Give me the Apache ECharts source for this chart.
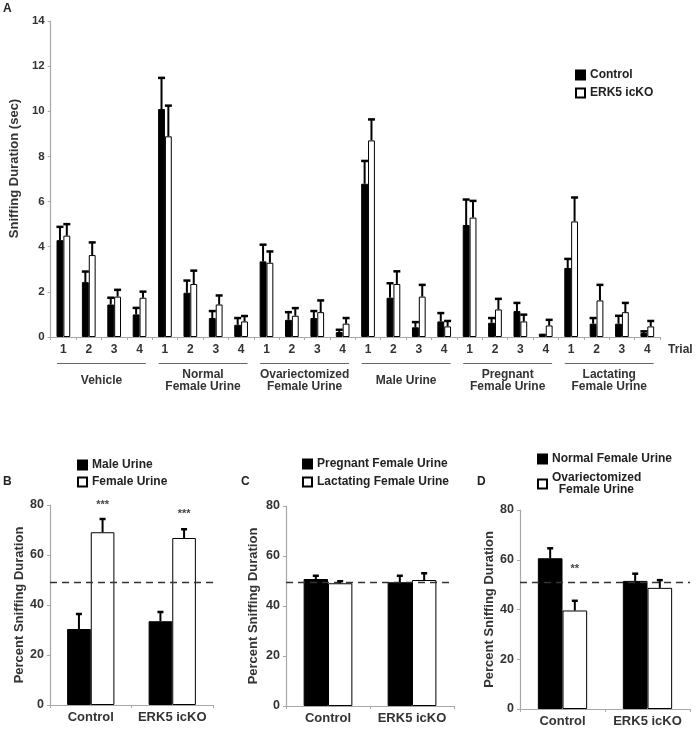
<!DOCTYPE html>
<html><head><meta charset="utf-8">
<script src="https://cdn.jsdelivr.net/npm/echarts@6/dist/echarts.min.js"></script>
<style>html,body{margin:0;padding:0;background:#fff}#c{width:696px;height:729px}</style>
</head><body><div id="c"></div>
<script>
// ---------- Panel A data ----------
const groupNames = ['Vehicle','Normal\nFemale Urine','Ovariectomized\nFemale Urine','Male Urine','Pregnant\nFemale Urine','Lactating\nFemale Urine'];
const trialLabels = ['1','2','3','4'];
const controlA = [4.29,2.43,1.44,1.00, 10.10,1.96,0.84,0.54, 3.35,0.76,0.84,0.22, 6.79,1.74,0.43,0.69, 4.96,0.63,1.15,0.15, 3.06,0.59,0.59,0.18];
const controlASem = [0.59,0.47,0.30,0.29, 1.38,0.54,0.31,0.30, 0.74,0.34,0.31,0.10, 1.01,0.64,0.23,0.37, 1.13,0.21,0.36,0.00, 0.40,0.25,0.35,0.07];
const koA = [4.49,3.63,1.79,1.74, 8.89,2.35,1.44,0.69, 3.29,0.94,1.10,0.59, 8.71,2.35,1.79,0.47, 5.29,1.22,0.69,0.51, 5.12,1.62,1.10,0.47];
const koASem = [0.51,0.56,0.30,0.27, 1.36,0.59,0.40,0.24, 0.50,0.34,0.52,0.25, 0.93,0.56,0.52,0.24, 0.74,0.47,0.30,0.25, 1.06,0.69,0.41,0.24];
const yTicksA = {min:0, max:14, interval:2};

// ---------- Panels B, C, D data ----------
const genotypes = ['Control','ERK5 icKO'];
const maleB = [30.4, 33.5], maleBSem = [6.0, 3.7];
const femaleB = [69.1, 66.8], femaleBSem = [5.3, 3.5];
const chanceB = 49;
const sigB = [[0, 80, '***'], [1, 76.5, '***']];

const pregnantC = [50.8, 49.5], pregnantCSem = [1.3, 2.6];
const lactatingC = [49.1, 50.4], lactatingCSem = [0.8, 2.7];
const chanceC = 49.5;

const normalD = [60.6, 51.5], normalDSem = [4.0, 2.9];
const ovxD = [39.6, 48.7], ovxDSem = [3.9, 3.1];
const chanceD = 50.8;
const sigD = [[0, 56.3, '**']];
const yTicksBottom = {min:0, max:80, interval:20};

const FONT = 'Liberation Sans, Arial, sans-serif';
const TXT = '#333';
const AX = '#a8a8a8';

const categoriesA = [];
groupNames.forEach((g, gi) => trialLabels.forEach(t => categoriesA.push(gi + '|' + t)));

function errRender(bwFrac, side, capW) {
  return function (params, api) {
    const i = api.value(0), v = api.value(1), t = api.value(2);
    if (!(t > v)) return;
    const band = api.size([1, 0])[0];
    const off = side * band * bwFrac / 2;
    const p0 = api.coord([i, v]), p1 = api.coord([i, t]);
    const x = p0[0] + off;
    return {type: 'group', children: [
      {type: 'line', shape: {x1: x, y1: p0[1], x2: x, y2: p1[1]}, style: {stroke: '#000', lineWidth: 2}},
      {type: 'line', shape: {x1: x - capW / 2, y1: p1[1], x2: x + capW / 2, y2: p1[1]}, style: {stroke: '#000', lineWidth: 2.5}}
    ]};
  };
}
function sigRender(bwFrac) {
  return function (params, api) {
    const band = api.size([1, 0])[0];
    const p = api.coord([api.value(0), api.value(1)]);
    return {type: 'text', x: p[0] + band * bwFrac / 2, y: p[1],
      style: {text: sigTexts[params.seriesName][params.dataIndex], fill: '#444', font: 'bold 11px ' + FONT, align: 'center', verticalAlign: 'middle'}};
  };
}
const sigTexts = {sigB: sigB.map(s => s[2]), sigD: sigD.map(s => s[2])};

const bwA = 0.27, bwB = 0.29;

function yAxisCfg(grid, ticks, name, gap, pad) {
  return {type: 'value', gridIndex: grid, min: ticks.min, max: ticks.max, interval: ticks.interval,
    axisLine: {show: true, lineStyle: {color: AX, width: 1.2}},
    axisTick: {show: true, length: 3, lineStyle: {color: AX}},
    splitLine: {show: false},
    axisLabel: {color: TXT, fontFamily: FONT, fontWeight: 'bold', fontSize: grid === 0 ? 11.5 : 12.5, margin: 6},
    name: name, nameLocation: 'middle', nameGap: gap,
    nameTextStyle: {color: TXT, fontFamily: FONT, fontWeight: 'bold', fontSize: 13, padding: pad || 0}};
}
function xAxisCat(grid, data, extra) {
  return Object.assign({type: 'category', gridIndex: grid, data: data,
    axisLine: {show: true, lineStyle: {color: AX, width: 1.2}},
    axisTick: {show: true, length: 3, lineStyle: {color: AX}},
    axisLabel: {color: TXT, fontFamily: FONT, fontWeight: 'bold', fontSize: 13, margin: 6, interval: 0, hideOverlap: false}}, extra || {});
}
function barPair(xi, n1, d1, n2, d2, bw) {
  return [
    {type: 'bar', name: n1, xAxisIndex: xi, yAxisIndex: xi, data: d1, barWidth: (bw * 100) + '%', barGap: '0%',
      itemStyle: {color: '#000', borderColor: '#000', borderWidth: 1}, emphasis: {disabled: true}},
    {type: 'bar', name: n2, xAxisIndex: xi, yAxisIndex: xi, data: d2, barWidth: (bw * 100) + '%', barGap: '0%',
      itemStyle: {color: '#fff', borderColor: '#000', borderWidth: 1}, emphasis: {disabled: true}}
  ];
}
function errSeries(xi, vals, sems, bw, side, capW) {
  return {type: 'custom', xAxisIndex: xi, yAxisIndex: xi, silent: true, z: 5,
    renderItem: errRender(bw, side, capW), encode: {x: 0, y: [1, 2]},
    data: vals.map((v, i) => [i, v, +(v + sems[i]).toFixed(3)])};
}
function chanceLine(v) {
  return {silent: true, symbol: 'none', label: {show: false},
    lineStyle: {color: '#333', type: [7, 5], width: 1.3}, data: [{yAxis: v}]};
}
const legTxt = {color: '#222', fontFamily: FONT, fontWeight: 'bold', fontSize: 12, lineHeight: 12};
function legendCfg(names, left, top, gap, fmt) {
  const l = {data: names, left: left, top: top, orient: 'vertical', icon: 'rect', itemWidth: 9, itemHeight: 9,
    itemGap: gap, selectedMode: false, textStyle: legTxt};
  if (fmt) l.formatter = fmt;
  return l;
}

const option = {
  animation: false,
  backgroundColor: '#fff',
  grid: [
    {left: 47, top: 21, width: 613, height: 316},
    {left: 50, top: 505, width: 163, height: 200},
    {left: 286, top: 506, width: 168, height: 200},
    {left: 520, top: 510, width: 170, height: 199}
  ],
  xAxis: [
    xAxisCat(0, categoriesA, {
      axisLabel: {color: TXT, fontFamily: FONT, fontWeight: 'bold', fontSize: 12, margin: 7, interval: 0,
        formatter: v => v.split('|')[1]},
      name: 'Trial', nameLocation: 'end', nameGap: 8,
      nameTextStyle: {color: TXT, fontFamily: FONT, fontWeight: 'bold', fontSize: 12, verticalAlign: 'top', padding: [7, 0, 0, 0]}
    }),
    xAxisCat(1, genotypes),
    xAxisCat(2, genotypes),
    xAxisCat(3, genotypes)
  ],
  yAxis: [
    yAxisCfg(0, yTicksA, 'Sniffing Duration (sec)', 26, [0, 0, 0, 21]),
    yAxisCfg(1, yTicksBottom, 'Percent Sniffing Duration', 23),
    yAxisCfg(2, yTicksBottom, 'Percent Sniffing Duration', 26),
    yAxisCfg(3, yTicksBottom, 'Percent Sniffing Duration', 22)
  ],
  legend: [
    legendCfg(['Control', 'ERK5 icKO'], 570, 64, 6),
    legendCfg(['Male Urine', 'Female Urine'], 72, 454, 5),
    legendCfg(['Pregnant Female Urine', 'Lactating Female Urine'], 297, 453, 6),
    legendCfg(['Normal Female Urine', 'Ovariectomized Female Urine'], 532, 448, 7,
      n => n === 'Ovariectomized Female Urine' ? 'Ovariectomized\n  Female Urine' : n)
  ],
  graphic: [
    {type: 'text', left: 3, top: 3, style: {text: 'A', font: 'bold 12px ' + FONT, fill: '#222'}},
    {type: 'text', left: 3, top: 476, style: {text: 'B', font: 'bold 12px ' + FONT, fill: '#222'}},
    {type: 'text', left: 241, top: 476, style: {text: 'C', font: 'bold 12px ' + FONT, fill: '#222'}},
    {type: 'text', left: 477, top: 476, style: {text: 'D', font: 'bold 12px ' + FONT, fill: '#222'}}
  ],
  series: [].concat(
    barPair(0, 'Control', controlA, 'ERK5 icKO', koA, bwA),
    [errSeries(0, controlA, controlASem, bwA, -1, 7), errSeries(0, koA, koASem, bwA, 1, 7),
     {type: 'custom', xAxisIndex: 0, yAxisIndex: 0, silent: true, clip: false,
      data: groupNames.map((g, i) => [i * 4, 0, i]),
      renderItem: function (params, api) {
        const gi = api.value(2);
        const a = api.coord([gi * 4, 0]), b = api.coord([gi * 4 + 3, 0]);
        const band = api.size([1, 0])[0];
        return {type: 'group', children: [
          {type: 'line', shape: {x1: a[0] - band * 0.25, y1: a[1] + 26.5, x2: b[0] + band * 0.25, y2: a[1] + 26.5},
            style: {stroke: '#666', lineWidth: 1.2}},
          {type: 'text', x: (a[0] + b[0]) / 2, y: a[1] + 43.5,
            style: {text: groupNames[gi], font: 'bold 12px ' + FONT, fill: TXT, align: 'center', verticalAlign: 'middle', lineHeight: 12.5}}
        ]};
      }}],
    barPair(1, 'Male Urine', maleB, 'Female Urine', femaleB, bwB),
    [errSeries(1, maleB, maleBSem, bwB, -1, 6), errSeries(1, femaleB, femaleBSem, bwB, 1, 6),
     {type: 'custom', name: 'sigB', xAxisIndex: 1, yAxisIndex: 1, silent: true, data: sigB.map(s => [s[0], s[1]]), renderItem: sigRender(bwB)}],
    barPair(2, 'Pregnant Female Urine', pregnantC, 'Lactating Female Urine', lactatingC, bwB),
    [errSeries(2, pregnantC, pregnantCSem, bwB, -1, 6), errSeries(2, lactatingC, lactatingCSem, bwB, 1, 6)],
    barPair(3, 'Normal Female Urine', normalD, 'Ovariectomized Female Urine', ovxD, bwB),
    [errSeries(3, normalD, normalDSem, bwB, -1, 6), errSeries(3, ovxD, ovxDSem, bwB, 1, 6),
     {type: 'custom', name: 'sigD', xAxisIndex: 3, yAxisIndex: 3, silent: true, data: sigD.map(s => [s[0], s[1]]), renderItem: sigRender(bwB)}]
  )
};
// dashed chance lines
option.series.find(s => s.name === 'Female Urine').markLine = chanceLine(chanceB);
option.series.find(s => s.name === 'Lactating Female Urine').markLine = chanceLine(chanceC);
option.series.find(s => s.name === 'Ovariectomized Female Urine').markLine = chanceLine(chanceD);

const chart = echarts.init(document.getElementById('c'), null, {renderer: 'canvas'});
chart.setOption(option);
</script></body></html>
